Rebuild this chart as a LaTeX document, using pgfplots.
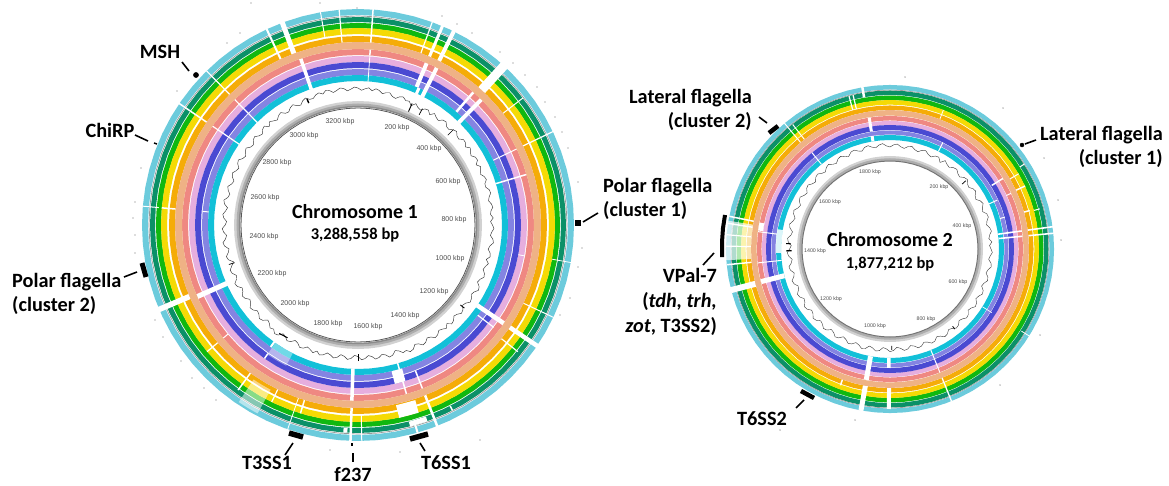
\documentclass[border=0pt]{standalone}
\usepackage{pgfplots}
\usepackage{pgfplotstable}
\usepgfplotslibrary{polar}
\usepackage{fontspec}
\setmainfont{Carlito}
\newfontfamily\tickfont{Liberation Sans}
\pgfplotsset{compat=1.18}
\definecolor{cLB}{HTML}{6CCBDC}
\definecolor{cDG}{HTML}{0B9068}
\definecolor{cG}{HTML}{10B810}
\definecolor{cY}{HTML}{F5DA05}
\definecolor{cO}{HTML}{F5AC08}
\definecolor{cP}{HTML}{EFB285}
\definecolor{cS}{HTML}{EF8882}
\definecolor{cPk}{HTML}{E6AEDE}
\definecolor{cI}{HTML}{4A4AD2}
\definecolor{cPw}{HTML}{8484E2}
\definecolor{cC}{HTML}{12C0D8}
\pgfplotstableread{
t u
0 1
5 1
10 1
15 1
20 1
25 1
30 1
35 1
40 1
45 1
50 1
55 1
60 1
65 1
70 1
75 1
80 1
85 1
90 1
95 1
100 1
105 1
110 1
115 1
120 1
125 1
130 1
135 1
140 1
145 1
150 1
155 1
160 1
165 1
170 1
175 1
180 1
185 1
190 1
195 1
200 1
205 1
210 1
215 1
220 1
225 1
230 1
235 1
240 1
245 1
250 1
255 1
260 1
265 1
270 1
275 1
280 1
285 1
290 1
295 1
300 1
305 1
310 1
315 1
320 1
325 1
330 1
335 1
340 1
345 1
350 1
355 1
360 1
}\rt
% ring: colour, radius, width
\newcommand\Rg[3]{\addplot[mark=none,draw=#1,line width=#3pt] table[x=t,y expr=#2] {\rt};}
% gap: angle, inner radius, outer radius, width
\newcommand\G[4]{\addplot[mark=none,draw=white,line width=#4pt] coordinates {(#1,#2)(#1,#3)};}
\newcommand\kb[3]{\node[font=\tickfont\fontsize{7}{8}\selectfont,text=black!70] at (axis cs:#1,#2) {#3 kbp};}
\newcommand\kc[3]{\node[font=\tickfont\fontsize{5.3}{6}\selectfont,text=black!70] at (axis cs:#1,#2) {#3 kbp};}
\newcommand\Lab{\fontsize{20.3}{24}\selectfont\bfseries}
\begin{document}
\begin{tikzpicture}
\useasboundingbox (0,0) rectangle (1169pt,485pt);
% ---------- Chromosome 1
\begin{polaraxis}[at={(358pt,260pt)},anchor=center,scale only axis,width=460pt,height=460pt,
  xmin=0,xmax=360,ymin=0,ymax=230,hide axis,clip=false]
\Rg{cLB}{213}{6}
\Rg{cDG}{205.5}{5}
\Rg{cG}{199.5}{5.2}
\Rg{cY}{194}{6}
\Rg{cO}{186}{6}
\Rg{cS}{173}{6}
\Rg{cPk}{166}{6}
\Rg{cI}{160}{6}
\Rg{cPw}{153}{6}
\Rg{cC}{147}{6}
\Rg{black!40}{209}{0.7}
\addplot[mark=none,draw=white,opacity=.5,line width=27pt] coordinates {(-124,200)(-122.5,200)(-121,200)(-119.5,200)(-118,200)};
\addplot[mark=none,draw=white,opacity=.4,line width=14pt] coordinates {(-125,151)(-123,151)(-121,151)(-119,151)(-117,151)};
\G{86}{170}{216.5}{1.5}\G{86}{144}{170}{.8}
\G{95}{183}{216.5}{1.2}\G{100}{190}{216.5}{1}
\G{110.5}{183}{216.5}{5}\G{115}{183}{216.5}{2}\G{109}{143.5}{176}{3.5}
\G{134.5}{183}{216.5}{1.2}\G{134.5}{143.5}{176}{1.2}
\G{145.8}{183}{216.5}{1.5}\G{145.8}{143.5}{176}{1.2}
\G{69.9}{183}{216.5}{1.2}\G{67}{183}{216.5}{3}\G{63.7}{183}{216.5}{4}
\G{67}{150}{176}{4}\G{63.4}{143.5}{176}{4}\G{66}{143.5}{150}{3}
\G{47.5}{183}{216.5}{9}\G{49}{150}{176}{2.5}\G{45.5}{143.5}{176}{4}
\G{25.6}{183}{216.5}{1.2}\G{25.6}{150}{176}{1}\G{16.7}{143.5}{176}{1.5}
\G{37.6}{183}{208}{1}\G{-10}{197}{216.5}{.8}\G{-10.5}{163}{170}{.8}
\G{-34}{143.5}{176}{4.5}\G{-34}{183}{217}{4.5}
\G{-25.3}{183}{216.5}{1}\G{-38.4}{183}{204}{1.2}\G{-37}{150}{170}{1.2}
\G{-92}{183}{216.5}{2.5}\G{-92}{143.5}{176}{3.5}\G{-89}{190}{216.5}{1}
\G{-75}{150}{163}{11}\G{-74}{143.5}{176}{1.5}\G{-68.5}{157}{176}{1.5}
\G{-75}{184}{197}{20}\G{-73}{203}{208}{18}\G{-68.5}{183}{216.5}{2.5}
\G{-63}{203}{208}{1.5}\G{-74}{208}{216.5}{2}\G{-93.5}{203}{208}{4}
\G{-125.6}{143.5}{150}{2}\G{-126}{183}{204}{1.5}\G{-116}{183}{197}{1.2}
\G{-107}{183}{197}{1.5}\G{-109}{183}{216.5}{.8}\G{-140}{183}{197}{1.2}\G{-140}{170}{176}{1}
\G{-125}{157}{163}{1.5}\G{-157}{183}{216.5}{5.5}\G{-156}{143.5}{176}{5}
\G{175}{200}{216.5}{1}\G{175}{183}{197}{1.5}\G{175}{150}{156}{1}
\Rg{cP}{179.5}{7}
% GC curve, read by eye: 1.5 degree steps
\addplot[mark=none,draw=black!80,line width=.45pt] coordinates {
(0,134.5)(1.5,132.6)(3,135.4)(4.5,133)(6,133.6)(7.5,136)(9,135)(10.5,132.8)(12,134)(13.5,136.4)(15,136)(16.5,133.2)(18,133.4)(19.5,136.2)(21,135.2)(22.5,132.6)(24,134.2)(25.5,135.8)(27,132.6)(28.5,136)(30,135.6)(31.5,132.6)(33,134)(34.5,136.2)(36,132.8)(37.5,135.4)(39,135.8)(40.5,132.4)(42,133.2)(43.5,136)(45,134.6)(46.5,131.8)(48,132.4)(49.5,135.6)(51,135)(52.5,131.8)(54,133)(55.5,135.2)(57,131.6)(58.5,134.8)(60,134)(61.5,130.8)(63,132)(64.5,134.4)(66,130.6)(67.5,134)(69,133.2)(70.5,135.8)(72,134.8)(73.5,132)(75,133)(76.5,136)(78,135.2)(79.5,133.6)(81,136.2)(82.5,137.4)(84,135)(85.5,137.6)(87,136.4)(88.5,134.8)(90,137)(91.5,138)(93,136)(94.5,134.6)(96,137.2)(97.5,138.2)(99,136.2)(100.5,134.8)(102,137.4)(103.5,138.4)(105,135.6)(106.5,137.8)(108,136.8)(109.5,134.2)(111,134.6)(112.5,137.4)(114,136)(115.5,132.8)(117,134)(118.5,136.8)(120,135.4)(121.5,132.6)(123,133.2)(124.5,136.4)(126,135.2)(127.5,132.4)(129,134)(130.5,136)(132,132.6)(133.5,136.2)(135,135)(136.5,132)(138,133.2)(139.5,136)(141,134.8)(142.5,131.8)(144,132.6)(145.5,135.8)(147,134.4)(148.5,131.8)(150,133)(151.5,136.2)(153,135)(154.5,132)(156,133.4)(157.5,136)(159,134.6)(160.5,131.6)(162,132.8)(163.5,135.8)(165,134.4)(166.5,131.8)(168,133)(169.5,136.4)(171,135.2)(172.5,131.6)(174,133.2)(175.5,135.6)(177,134.4)(178.5,131.4)(180,132.8)(181.5,135.8)(183,134.6)(184.5,131.8)(186,133.2)(187.5,136.2)(189,135)(190.5,131.2)(192,132.6)(193.5,135.4)(195,134.2)(196.5,129.8)(198,132.8)(199.5,135.6)(201,134.8)(202.5,131.6)(204,133)(205.5,136.4)(207,135.4)(208.5,131.8)(210,133)(211.5,135.8)(213,134.6)(214.5,131.2)(216,132.6)(217.5,136)(219,135)(220.5,132.2)(222,133.4)(223.5,136)(225,134.8)(226.5,131)(228,132.4)(229.5,135.4)(231,134)(232.5,137)(234,136)(235.5,132)(237,133.2)(238.5,135.8)(240,134.6)(241.5,131.4)(243,132.6)(244.5,135.6)(246,134.8)(247.5,132)(249,133.4)(250.5,135.4)(252,132.6)(253.5,135.6)(255,134.4)(256.5,131.6)(258,132.8)(259.5,135.2)(261,134)(262.5,130.8)(264,132)(265.5,134.8)(267,133.6)(268.5,130.4)(270,131.6)(271.5,134.8)(273,133.8)(274.5,131)(276,132.2)(277.5,135.2)(279,134.2)(280.5,131.6)(282,132.8)(283.5,135.8)(285,134.6)(286.5,131)(288,132.4)(289.5,135.4)(291,134.4)(292.5,137)(294,136)(295.5,132.2)(297,133.4)(298.5,136.4)(300,135.4)(301.5,132.4)(303,133.6)(304.5,136.6)(306,135.6)(307.5,132.8)(309,134)(310.5,136)(312,132.8)(313.5,136.2)(315,135.2)(316.5,132.2)(318,133.4)(319.5,136)(321,135)(322.5,131.8)(324,133)(325.5,136.2)(327,135.2)(328.5,132.8)(330,134)(331.5,137)(333,136)(334.5,132.4)(336,133.6)(337.5,136.4)(339,135.4)(340.5,132.8)(342,134)(343.5,136)(345,132.8)(346.5,136)(348,135)(349.5,132.4)(351,133.6)(352.5,136.6)(354,135.6)(355.5,132.8)(357,134)(358.5,136)(360,134.5)};
\addplot[mark=none,draw=black,line width=.9pt] coordinates {(66,133)(66,124)};
\addplot[mark=none,draw=black,line width=.7pt] coordinates {(61,133)(61,126)};
\addplot[mark=none,draw=black,line width=.7pt] coordinates {(45,135)(45,127)};
\addplot[mark=none,draw=black,line width=1.4pt] coordinates {(112,136)(112,131.5)};
\addplot[mark=none,draw=black,line width=.7pt] coordinates {(197,135)(197,129)};
\addplot[mark=none,draw=black,line width=.7pt] coordinates {(-90,136)(-90,129)};
\addplot[mark=none,draw=black,line width=1pt] coordinates {(-126,134)(-122,133)};
\addplot[mark=none,draw=black,line width=.9pt] coordinates {(-38,135)(-38,130)};
% grey ring
\Rg{black!18}{122.5}{3}
\Rg{black!32}{120}{3}
\Rg{black!45}{118.5}{1.5}
\Rg{black!65}{117}{.8}
\end{polaraxis}
% ---------- Chromosome 2
\begin{polaraxis}[at={(890pt,236pt)},anchor=center,scale only axis,width=360pt,height=360pt,
  xmin=0,xmax=360,ymin=0,ymax=180,hide axis,clip=false]
\Rg{cLB}{161.8}{4.5}
\Rg{cDG}{156.3}{4.5}
\Rg{cG}{151.2}{4.6}
\Rg{cY}{146.7}{4.6}
\Rg{cO}{141.3}{4.5}
\Rg{cS}{130.8}{4.5}
\Rg{cPk}{126}{4.2}
\Rg{cI}{121.5}{5}
\Rg{cPw}{116.5}{4}
\Rg{cC}{111.5}{5}
\Rg{black!40}{159}{0.6}
% VPal-7 washed region
\addplot[mark=none,draw=white,opacity=.68,line width=26pt] coordinates {(170,151.5)(172,151.5)(174,151.5)(176,151.5)(178,151.5)(180,151.5)(182,151.5)(184,151.5)};
\addplot[mark=none,draw=white,opacity=.85,line width=5.5pt] coordinates {(170,111.5)(173,111.5)(176,111.5)(179,111.5)(182,111.5)};
\addplot[mark=none,draw=white,line width=5pt] coordinates {(168.5,130.8)(170,130.8)(172,130.8)};
\G{168.5}{139}{164}{1.5}\G{171}{139}{164}{1.5}\G{175}{139}{164}{1.2}\G{179}{139}{164}{1.2}\G{185.5}{139}{164}{1.5}
\G{186}{109}{133}{1}\G{172.5}{114}{133}{1}
\G{-165.5}{139}{164.5}{6}\G{-165.8}{109}{133}{5}
\G{99.7}{154}{164.5}{2.5}\G{99}{119}{133}{3}\G{99}{109}{114.5}{3}
\G{105}{144}{158.5}{1.2}\G{103.5}{144}{158.5}{1.2}
\G{130}{139}{164.5}{1}\G{128}{139}{158}{1}\G{129}{109}{124}{1}
\G{7.8}{109}{133}{1.6}\G{5.5}{109}{133}{1.6}\G{7.8}{139}{164.5}{1.6}\G{5.5}{139}{164.5}{1.6}
\G{15}{149}{155}{1}\G{15.4}{139}{145}{1.5}\G{25}{139}{149}{1.5}\G{30.3}{139}{149}{1}
\G{32.3}{154}{159}{1}\G{32}{120}{134}{1.5}\G{24.7}{128}{133}{1}\G{24.5}{109}{118}{1}
\G{15.5}{114}{119}{1}\G{69}{139}{149}{.8}\G{63.6}{109}{119}{1}
\G{-100.3}{109}{133}{5}\G{-100.2}{139}{164.5}{5}
\G{-90.6}{109}{119}{3.5}\G{-90.4}{139}{160}{4}
\G{-110}{139}{145}{1.5}\G{-68}{109}{134}{1}\G{-68}{139}{164.5}{1.3}
\G{-32}{155}{164.5}{.8}\G{-32}{109}{120}{.7}
\Rg{cP}{136.2}{5.5}
\addplot[mark=none,draw=black!80,line width=.4pt] coordinates {
(0,101)(2,99.6)(4,102.2)(6,99.4)(8,100.6)(10,103)(12,102)(14,99.6)(16,100.8)(18,103.4)(20,103)(22,99.8)(24,101)(26,103.6)(28,102.4)(30,99.2)(32,100.4)(34,103.4)(36,102.6)(38,100)(40,101.2)(42,104)(44,103)(46,100.2)(48,101.4)(50,104)(52,103.2)(54,100.8)(56,102)(58,104.2)(60,100)(62,104)(64,103.4)(66,100.8)(68,102)(70,104.6)(72,103.8)(74,101.2)(76,102.4)(78,105)(80,104)(82,101.6)(84,102.8)(86,105.2)(88,104.2)(90,102)(92,103.2)(94,105.6)(96,104.6)(98,102.2)(100,103.4)(102,105.6)(104,104.8)(106,101.8)(108,103)(110,105.2)(112,104.4)(114,101.4)(116,102.6)(118,105)(120,104)(122,101)(124,102.2)(126,104.6)(128,103.4)(130,100.6)(132,101.8)(134,104.2)(136,103.2)(138,100.2)(140,101.4)(142,104)(144,103)(146,100)(148,101.2)(150,103.8)(152,102.8)(154,99.6)(156,100.8)(158,103.6)(160,102.6)(162,99.8)(164,101)(166,103.4)(168,102.4)(170,99)(172,100)(174,103)(176,102)(178,98.8)(180,100.4)(182,102.8)(184,101.6)(186,98.4)(188,99.6)(190,102.6)(192,101.8)(194,98.8)(196,100)(198,103)(200,102)(202,99)(204,100.2)(206,103)(208,102.2)(210,99.2)(212,100.4)(214,103.2)(216,102.4)(218,99.4)(220,100.6)(222,103.4)(224,102.6)(226,99.8)(228,101)(230,103.6)(232,102.8)(234,99.6)(236,100.8)(238,103.6)(240,102.6)(242,99.4)(244,100.6)(246,103.2)(248,102.4)(250,99.6)(252,100.8)(254,103.4)(256,102.6)(258,99.2)(260,100.4)(262,103)(264,102.2)(266,98.8)(268,100)(270,102.6)(272,101.6)(274,98.6)(276,99.8)(278,102.4)(280,101.6)(282,98.8)(284,100)(286,102.8)(288,102)(290,99.2)(292,100.4)(294,103)(296,102.4)(298,99.4)(300,100.6)(302,103.4)(304,102.6)(306,99.6)(308,100.8)(310,103.2)(312,102.4)(314,99.4)(316,100.6)(318,103)(320,102.2)(322,99.2)(324,100.4)(326,103)(328,102)(330,99.2)(332,100.4)(334,102.8)(336,102)(338,98.8)(340,100)(342,102.6)(344,101.8)(346,99)(348,100.2)(350,102.8)(352,102)(354,99.2)(356,100.4)(358,102.4)(360,101)};
\addplot[mark=none,draw=black,line width=1.1pt] coordinates {(177,99.5)(177,104)};
\addplot[mark=none,draw=black,line width=1.1pt] coordinates {(181,98.5)(181,104)};
\addplot[mark=none,draw=black,line width=.8pt] coordinates {(-89,101)(-89,97)};
\addplot[mark=none,draw=black,line width=.8pt] coordinates {(-51,103)(-51,99.5)};
\addplot[mark=none,draw=black,line width=.7pt] coordinates {(42,102)(42,97)};
\Rg{black!18}{91.5}{3}
\Rg{black!32}{89.5}{2.5}
\Rg{black!55}{88}{1}
\end{polaraxis}
% ---------- Annotations, in picture coordinates
\begin{axis}[at={(0pt,0pt)},anchor=south west,scale only axis,width=1169pt,height=485pt,
  xmin=0,xmax=1169,ymin=0,ymax=485,y dir=reverse,hide axis,clip=false]
\addplot[only marks,mark=*,mark size=.45pt,draw=black!45,fill=black!45] coordinates {
(442,16)(457,24)(472,33)(500,52)(513,63)(525,75)(537,87)(545,102)(555,117)(562,132)(568,148)
(578,182)(582,248)(578,267)(570,298)(560,315)(251,3)(240,33)(227,43)(177,91)(320,3)(357,8)
(141,168)(135,202)(133,218)(135,235)(135,253)(155,320)(163,337)(181,361)(192,378)(204,388)(216,400)(330,450)(400,452)(480,440)
(1003,108)(1044,158)(1058,200)(1061,240)(905,77)(780,430)(855,420)(1000,385)(1040,335)};
\addplot[mark=none,black,line width=1.6pt] coordinates {(182,62)(189,71)};
\addplot[only marks,mark=*,mark size=2.6pt,black] coordinates {(196,75)};
\addplot[mark=none,black,line width=1.6pt] coordinates {(135,135)(148,141)};
\addplot[mark=none,black,line width=1.5pt] coordinates {(154,143)(157,144)};
\addplot[mark=none,black,line width=1.6pt] coordinates {(124,277)(137,272)};
\addplot[mark=none,black,line width=5pt] coordinates {(142,263)(146,277)};
\addplot[mark=none,black,line width=1.6pt] coordinates {(583,222)(598,213)};
\addplot[mark=none,black,line width=5.5pt] coordinates {(578,220)(578,226)};
\addplot[mark=none,black,line width=1.6pt] coordinates {(285,455)(293,443)};
\addplot[mark=none,black,line width=5.5pt] coordinates {(289,433)(303,437)};
\addplot[mark=none,black,line width=1.2pt] coordinates {(352,443)(352,446)};
\addplot[mark=none,black,line width=1.6pt] coordinates {(353,453)(353,462)};
\addplot[mark=none,black,line width=1.6pt] coordinates {(420,443)(425,451)};
\addplot[mark=none,black,line width=5.5pt] coordinates {(410,439)(428,434)};
\addplot[mark=none,black,line width=1.6pt] coordinates {(759,117)(767,123)};
\addplot[mark=none,black,line width=4.5pt] coordinates {(769,133)(778,126)};
\addplot[mark=none,black,line width=1.6pt] coordinates {(1036,140)(1025,144)};
\addplot[only marks,mark=*,mark size=2pt,black] coordinates {(1022,145)};
\addplot[mark=none,black,line width=4pt] coordinates {(725,215)(723,228)(722,242)(722,257)};
\addplot[mark=none,black,line width=1.6pt] coordinates {(714,253)(703,265)};
\addplot[mark=none,black,line width=1.6pt] coordinates {(796,408)(804,400)};
\addplot[mark=none,black,line width=4.5pt] coordinates {(801,391)(814,398)};
\kb{340}{122}{3200}\kb{304}{136}{3000}\kb{277}{163}{2800}\kb{265}{198}{2600}\kb{264}{237}{2400}
\kb{272}{274}{2200}\kb{295}{304}{2000}\kb{328}{324}{1800}\kb{368}{327}{1600}\kb{405}{316}{1400}
\kb{434}{292}{1200}\kb{450}{259}{1000}\kb{454}{220}{800}\kb{448}{182}{600}\kb{429}{149}{400}\kb{397}{128}{200}
\kc{870}{172}{1800}\kc{830}{202}{1600}\kc{815}{251}{1400}\kc{831}{299}{1200}\kc{875}{326}{1000}
\kc{926}{319}{800}\kc{958}{282}{600}\kc{962}{226}{400}\kc{939}{187}{200}
\node[font=\fontsize{20}{24}\selectfont\bfseries] at (axis cs:355,212) {Chromosome 1};
\node[font=\fontsize{16.5}{18}\selectfont\bfseries] at (axis cs:355,235) {3,288,558 bp};
\node[font=\fontsize{20}{24}\selectfont\bfseries] at (axis cs:890,240) {Chromosome 2};
\node[font=\fontsize{16.5}{18}\selectfont\bfseries] at (axis cs:890,264) {1,877,212 bp};
\node[font=\Lab] at (axis cs:160,52) {MSH};
\node[font=\Lab] at (axis cs:110,130) {ChiRP};
\node[font=\Lab,align=left,anchor=west,inner sep=0pt] at (axis cs:12,293.5) {Polar flagella\\(cluster 2)};
\node[font=\Lab,align=left,anchor=west,inner sep=0pt] at (axis cs:603,198.5) {Polar flagella\\(cluster 1)};
\node[font=\Lab] at (axis cs:267,463) {T3SS1};
\node[font=\Lab] at (axis cs:353,475) {f237};
\node[font=\Lab] at (axis cs:446,463) {T6SS1};
\node[font=\Lab,align=right,anchor=east,inner sep=0pt] at (axis cs:752,109.5) {Lateral flagella\\(cluster 2)};
\node[font=\Lab,align=right,anchor=east,inner sep=0pt] at (axis cs:1163,146.5) {Lateral flagella\\(cluster 1)};
\node[font=\Lab,align=right,anchor=east,inner sep=0pt] at (axis cs:717,302) {VPal-7\\[1pt](\textit{tdh, trh,}\\[1pt]\textit{zot}, T3SS2)};
\node[font=\Lab] at (axis cs:762,419) {T6SS2};
\end{axis}
\end{tikzpicture}
\end{document}
